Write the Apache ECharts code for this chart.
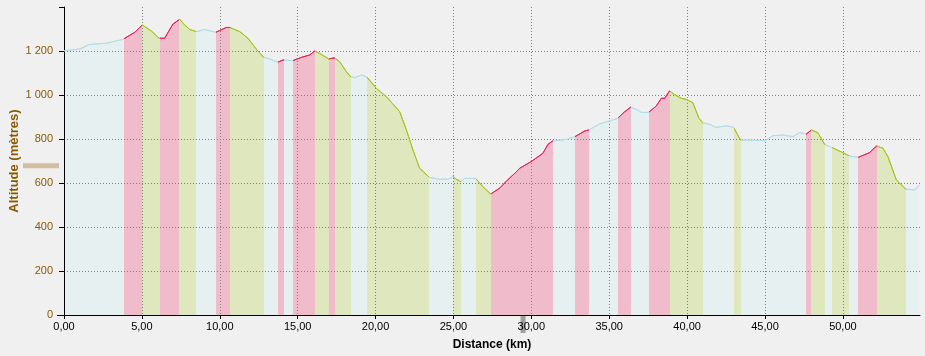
<!DOCTYPE html>
<html>
<head>
<meta charset="utf-8">
<script src="https://cdn.jsdelivr.net/npm/echarts@6.0.0/dist/echarts.min.js"></script>
<style>
  html, body { margin: 0; padding: 0; background: #f0f0f0; }
  #chartProfile { width: 925px; height: 356px; }
</style>
</head>
<body>
<div id="chartProfile"></div>
<script>
// profil altimétrique : distance (km) / altitude (m)
const distKm = [0.00, 1.01, 1.65, 2.72, 3.79, 4.54, 5.03, 5.61, 6.10, 6.46, 7.00, 7.43, 7.75, 8.07, 8.50,
  9.03, 9.74, 10.42, 10.64, 11.28, 11.81, 12.35, 12.82, 13.21, 13.72, 14.06, 14.68, 15.24, 15.77, 16.09,
  16.41, 16.99, 17.37, 17.69, 18.13, 18.40, 18.66, 19.09, 19.43, 20.05, 20.69, 21.55, 21.98, 22.40, 22.83,
  23.45, 24.11, 24.65, 24.97, 25.19, 25.48, 25.72, 26.43, 26.89, 27.39, 27.96, 28.45, 29.04, 29.25, 29.98,
  30.74, 31.07, 31.37, 32.25, 32.78, 33.42, 33.68, 34.38, 35.02, 35.54, 35.99, 36.37, 36.74, 37.06, 37.53,
  38.02, 38.34, 38.56, 38.87, 39.31, 39.63, 39.95, 40.37, 40.76, 40.99, 41.44, 41.87, 42.52, 42.98, 43.43,
  44.22, 44.99, 45.51, 46.15, 46.79, 47.22, 47.66, 47.98, 48.39, 48.82, 49.27, 50.00, 50.42, 51.00, 51.71,
  52.16, 52.57, 52.89, 53.43, 54.02, 54.60, 54.92]
const altM = [1201, 1209, 1230, 1235, 1253, 1285, 1318, 1291, 1258, 1258, 1323, 1344, 1318, 1298, 1288,
  1298, 1285, 1307, 1307, 1288, 1258, 1208, 1171, 1164, 1149, 1159, 1156, 1171, 1182, 1200,
  1189, 1164, 1169, 1152, 1106, 1083, 1079, 1091, 1083, 1030, 993, 924, 841, 750, 667,
  626, 617, 617, 629, 617, 606, 621, 621, 583, 550, 576, 612, 651, 667, 697,
  735, 776, 791, 798, 810, 836, 841, 868, 882, 894, 924, 944, 935, 921, 921,
  950, 985, 985, 1018, 997, 985, 980, 965, 894, 874, 867, 853, 860, 853, 795,
  795, 792, 815, 818, 811, 829, 823, 841, 829, 776, 762, 738, 723, 717, 738,
  768, 758, 720, 614, 573, 568, 591]

// tronçons : montée / descente / plat
const segBreaks = [0, 3.83, 5.03, 6.14, 7.41, 8.45, 9.74, 10.64, 12.82, 13.72, 14.11, 14.68, 16.09, 16.99,
  17.37, 18.40, 19.43, 23.45, 24.97, 25.48, 26.43, 27.39, 31.37, 32.78, 33.68, 35.54, 36.37, 37.53, 38.87,
  40.99, 42.98, 43.43, 47.66, 47.98, 48.82, 49.27, 50.42, 51.00, 52.16, 54.02, 54.92]
const segKinds = ['plat', 'montee', 'descente', 'montee', 'descente', 'plat', 'montee', 'descente', 'plat',
  'montee', 'plat', 'montee', 'descente', 'montee', 'descente', 'plat', 'descente', 'plat', 'descente', 'plat',
  'descente', 'montee', 'plat', 'montee', 'plat', 'montee', 'plat', 'montee', 'descente', 'plat', 'descente',
  'plat', 'montee', 'descente', 'plat', 'descente', 'plat', 'montee', 'descente', 'plat']

// position du curseur
const cursorKm = 29.47
const cursorAlt = 678

const fillColors = { montee: '#f0bccc', descente: '#dfe7bf', plat: '#e6f0f0' }
const lineColors = { montee: '#e8225a', descente: '#a6c41e', plat: '#b4dce8' }

function buildPieces(colors) {
    return segKinds.map((k, i) => {
        const p = { gte: segBreaks[i], color: colors[k] }
        if (i === segKinds.length - 1) p.lte = segBreaks[i + 1] + 1
        else p.lt = segBreaks[i + 1]
        return p
    })
}

function fmtAlt(v) {
    if (v >= 1400) return ''
    if (v >= 1000) return Math.floor(v / 1000) + ' ' + String(v % 1000).padStart(3, '0')
    return String(v)
}

const points = distKm.map((d, i) => [d, altM[i]])
const chart = echarts.init(document.getElementById('chartProfile'))
const brown = '#8b5a00'
const font = 'Liberation Sans'

chart.setOption({
    backgroundColor: '#f0f0f0',
    animation: false,
    grid: { left: 64, right: 5, top: 7, bottom: 41, outerBoundsMode: 'none', containLabel: false },
    xAxis: {
        type: 'value',
        min: 0,
        max: 54.95,
        interval: 5,
        z: 3,
        name: 'Distance (km)',
        nameLocation: 'middle',
        nameGap: 24,
        nameMoveOverlap: false,
        nameTextStyle: { color: '#000', fontFamily: font, fontSize: 12, fontWeight: 'bold' },
        axisLine: { lineStyle: { color: '#000', width: 1 } },
        axisTick: { length: 4, lineStyle: { color: '#000' } },
        axisLabel: {
            color: '#000', fontFamily: font, fontSize: 11, margin: 6, showMaxLabel: false,
            formatter: v => (v % 5 === 0 ? v.toFixed(2).replace('.', ',') : '')
        },
        splitLine: { show: true, showMaxLine: false, lineStyle: { color: '#808080', type: [1, 2], width: 1 } }
    },
    yAxis: {
        type: 'value',
        min: 0,
        max: 1400,
        interval: 200,
        offset: 5,
        z: 3,
        name: 'Altitude (mètres)',
        nameLocation: 'middle',
        nameGap: 38,
        nameMoveOverlap: false,
        nameTextStyle: { color: brown, fontFamily: font, fontSize: 13, fontWeight: 'bold' },
        axisLine: { show: true, lineStyle: { color: '#000', width: 1 } },
        axisTick: { show: true, length: 5, lineStyle: { color: '#000' } },
        axisLabel: { color: brown, fontFamily: font, fontSize: 11, margin: 6, formatter: fmtAlt },
        splitLine: { show: true, showMaxLine: false, lineStyle: { color: '#808080', type: [1, 2], width: 1 } }
    },
    visualMap: [
        { type: 'piecewise', show: false, dimension: 0, seriesIndex: 0, pieces: buildPieces(fillColors) },
        { type: 'piecewise', show: false, dimension: 0, seriesIndex: 1, pieces: buildPieces(lineColors) }
    ],
    series: [
        {
            type: 'line',
            data: points,
            showSymbol: false,
            z: 1,
            lineStyle: { width: 0 },
            areaStyle: { opacity: 1 }
        },
        {
            type: 'line',
            data: points,
            showSymbol: false,
            z: 4,
            lineStyle: { width: 1 }
        }
    ]
})

// curseurs sur les axes
const cur = chart.convertToPixel({ gridIndex: 0 }, [cursorKm, cursorAlt])
const origin = chart.convertToPixel({ gridIndex: 0 }, [0, 0])
chart.setOption({
    graphic: [
        { type: 'rect', z: 0, shape: { x: 23, y: cur[1] - 2.5, width: origin[0] - 5 - 23, height: 5 }, style: { fill: '#d4bea2' } },
        { type: 'rect', z: 0, shape: { x: cur[0] - 2.5, y: origin[1] + 1, width: 5, height: 17 }, style: { fill: '#a0a0a0' } },
        { type: 'line', z: 5, shape: { x1: origin[0] - 7, y1: origin[1] + 0.5, x2: origin[0], y2: origin[1] + 0.5 }, style: { stroke: '#000', lineWidth: 1 } }
    ]
})
</script>
</body>
</html>
